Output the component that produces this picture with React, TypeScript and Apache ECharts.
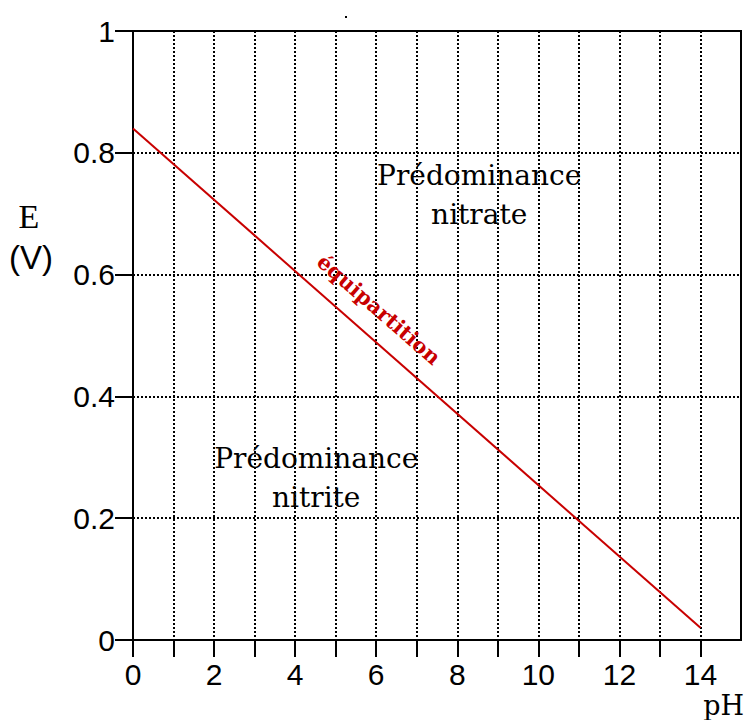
import React, { useEffect, useRef } from "react";
import * as echarts from "echarts";

// Data: the equipartition line E = f(pH)
const linePH = [0, 14];
const lineE = [0.84, 0.02];

// Axis ranges
const xMin = 0;
const xMax = 15;
const xStep = 1;
const yMin = 0;
const yMax = 1;
const yStep = 0.2;

// Annotations (text and anchor in data units)
const annotationTexts = ["Prédominance\nnitrate", "Prédominance\nnitrite", "équipartition"];
const annotationPH = [8.54, 4.52, 6.07];
const annotationE = [0.73, 0.266, 0.543];

const App: React.FC = () => {
  const ref = useRef<HTMLDivElement>(null);

  useEffect(() => {
    document.body.style.margin = "0";
    if (!ref.current) return;
    const chart = echarts.init(ref.current, undefined, { renderer: "svg" });

    const red = "#c80000";
    const sans = "'Liberation Sans', Arial, sans-serif";
    const serif = "'DejaVu Serif', serif";

    const annData = annotationTexts.map((t, i) => {
      const isRed = i === 2;
      return {
        value: [annotationPH[i], annotationE[i]],
        label: {
          show: true,
          position: "inside",
          formatter: t,
          color: isRed ? red : "#000",
          opacity: 1,
          fontFamily: serif,
          fontWeight: isRed ? "bold" : "normal",
          fontSize: isRed ? 21 : 28,
          lineHeight: isRed ? 24 : 39,
          align: "center",
          verticalAlign: "middle",
          rotate: isRed ? -41 : 0,
        },
      };
    });

    chart.setOption({
      animation: false,
      grid: {
        left: 133,
        top: 31,
        right: 3,
        bottom: 80,
        show: true,
        borderColor: "#000",
        borderWidth: 2,
        backgroundColor: "transparent",
      },
      xAxis: {
        type: "value",
        min: xMin,
        max: xMax,
        interval: xStep,
        axisLine: { show: true, lineStyle: { color: "#000", width: 2 } },
        axisTick: { show: true, inside: false, length: 17, lineStyle: { color: "#000", width: 2 } },
        axisLabel: {
          margin: 19,
          color: "#000",
          fontFamily: sans,
          fontSize: 30,
          lineHeight: 30,
          showMaxLabel: false,
          formatter: (v: number) => (v % 2 === 0 && v < xMax ? String(v) : ""),
        },
        splitLine: { show: true, lineStyle: { color: "#000", width: 2, type: [2, 2] } },
      },
      yAxis: {
        type: "value",
        min: yMin,
        max: yMax,
        interval: yStep,
        axisLine: { show: true, lineStyle: { color: "#000", width: 2 } },
        axisTick: { show: true, inside: false, length: 18, lineStyle: { color: "#000", width: 2 } },
        axisLabel: {
          margin: 18,
          color: "#000",
          fontFamily: sans,
          fontSize: 30,
          lineHeight: 30,
          padding: [0, 0, 10, 0],
          formatter: (v: number) => (v === 0 ? "0" : v === 1 ? "1" : v.toFixed(1)),
        },
        splitLine: { show: true, lineStyle: { color: "#000", width: 2, type: [2, 2] } },
      },
      series: [
        {
          type: "line",
          data: linePH.map((x, i) => [x, lineE[i]]),
          symbol: "none",
          lineStyle: { color: red, width: 2 },
          z: 5,
        },
        {
          type: "scatter",
          data: annData,
          symbolSize: 0,
          itemStyle: { color: "transparent", opacity: 1 },
          z: 6,
        },
      ],
      graphic: [
        {
          type: "text",
          x: 29,
          y: 216,
          style: {
            text: "E",
            fontFamily: "'Liberation Serif', serif",
            fontSize: 34,
            fill: "#000",
            align: "center",
            verticalAlign: "middle",
          },
        },
        {
          type: "text",
          x: 31,
          y: 257,
          style: {
            text: "(V)",
            fontFamily: sans,
            fontSize: 33,
            fill: "#000",
            align: "center",
            verticalAlign: "middle",
          },
        },
        {
          type: "text",
          x: 744,
          y: 705,
          style: {
            text: "pH",
            fontFamily: serif,
            fontSize: 27,
            fill: "#000",
            align: "right",
            verticalAlign: "middle",
          },
        },
        {
          type: "rect",
          shape: { x: 345, y: 16, width: 2, height: 2 },
          style: { fill: "#000" },
        },
      ],
    });

    return () => chart.dispose();
  }, []);

  return <div ref={ref} style={{ width: 744, height: 720 }} />;
};

export default App;
